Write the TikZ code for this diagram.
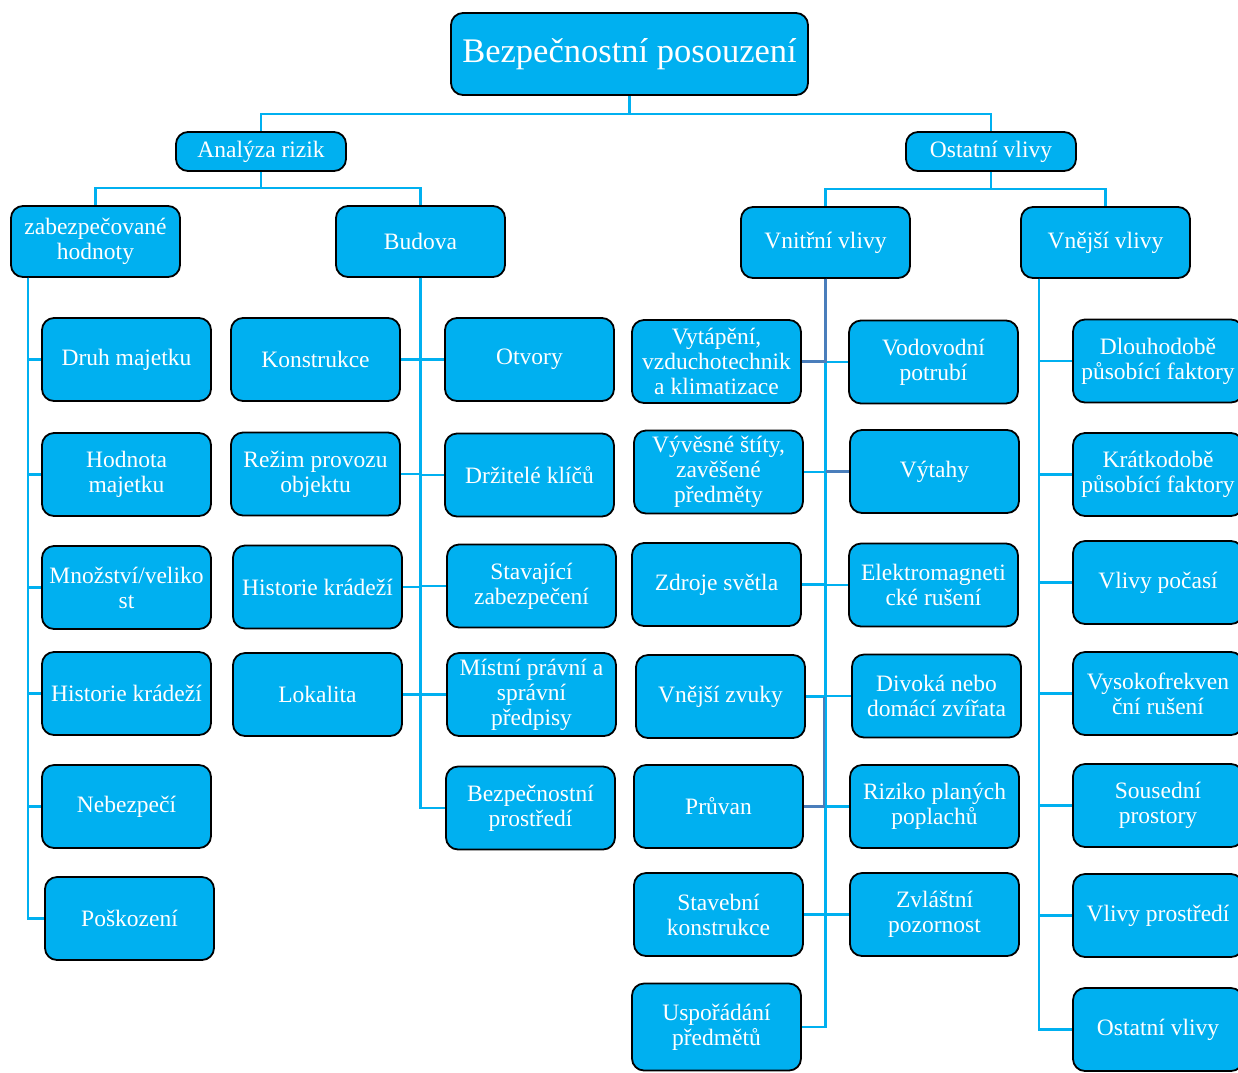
\documentclass[tikz,border=0pt]{standalone}
\usepackage{fontspec}
\setmainfont{Liberation Serif}
\definecolor{boxfill}{HTML}{00B0F0}
\definecolor{linec}{HTML}{00B0F0}
\definecolor{steel}{HTML}{4A7EBB}
\begin{document}
\begin{tikzpicture}[x=1pt,y=-1pt,
  box/.style={draw=black, line width=1.8pt, fill=boxfill, rounded corners=12pt, text=white,
    align=center, minimum width=169pt, minimum height=83pt, inner sep=1pt,
    font=\fontsize{23.5}{25}\selectfont},
  conn/.style={draw=linec, line width=2.5pt},
  sconn/.style={draw=steel, line width=2.2pt}]
\useasboundingbox (0,0) rectangle (1238,1072);
\clip (0,0) rectangle (1238,1072);

% level 0-2
\node[box, minimum width=357pt, minimum height=82pt, font=\fontsize{34.5}{38}\selectfont] (title) at (629.5,54) {Bezpečnostní posouzení};
\node[box, minimum width=170pt, minimum height=39pt] (ana) at (261,151.5) {Analýza rizik};
\node[box, minimum width=170pt, minimum height=39pt] (ost) at (991,151.5) {Ostatní vlivy};
\node[box, minimum height=71pt] (zab) at (95.5,241.5) {zabezpečované\\hodnoty};
\node[box, minimum height=71pt] (bud) at (420.5,241.5) {Budova};
\node[box, minimum height=71pt] (vni) at (825.5,242.5) {Vnitřní vlivy};
\node[box, minimum height=71pt] (vne) at (1105.5,242.5) {Vnější vlivy};

% zabezpečované hodnoty
\node[box] (druh) at (126.5,359.5) {Druh majetku};
\node[box] (hod) at (126.5,474.5) {Hodnota\\majetku};
\node[box] (mno) at (126.5,587.5) {Množství/veliko\\st};
\node[box] (his1) at (126.5,693.5) {Historie krádeží};
\node[box] (neb) at (126.5,806.5) {Nebezpečí};
\node[box] (pos) at (129.5,918.5) {Poškození};

% Budova left
\node[box] (kon) at (315.5,359.5) {Konstrukce};
\node[box] (rez) at (315.5,474) {Režim provozu\\objektu};
\node[box] (his2) at (317.5,587) {Historie krádeží};
\node[box] (lok) at (317.5,694.5) {Lokalita};
% Budova right
\node[box] (otv) at (529.5,359.5) {Otvory};
\node[box] (drz) at (529.5,475) {Držitelé klíčů};
\node[box] (sta) at (531.5,586) {Stavající\\zabezpečení};
\node[box] (mis) at (531.5,694.5) {Místní právní a\\správní\\předpisy};
\node[box] (bpr) at (530.5,808) {Bezpečnostní\\prostředí};

% Vnitřní left
\node[box] (vyt) at (716.5,361.5) {Vytápění,\\vzduchotechnik\\a klimatizace};
\node[box] (vyv) at (718.5,472) {Vývěsné štíty,\\zavěšené\\předměty};
\node[box] (zdr) at (716.5,584.5) {Zdroje světla};
\node[box] (vzv) at (720.5,696.5) {Vnější zvuky};
\node[box] (pru) at (718.5,806.5) {Průvan};
\node[box] (stk) at (718.5,914.5) {Stavební\\konstrukce};
\node[box, minimum height=87pt] (usp) at (716.5,1027) {Uspořádání\\předmětů};
% Vnitřní right
\node[box] (vod) at (933.5,362) {Vodovodní\\potrubí};
\node[box] (vyth) at (934.5,471.5) {Výtahy};
\node[box] (ele) at (933.5,585) {Elektromagneti\\cké rušení};
\node[box] (div) at (936.5,696) {Divoká nebo\\domácí zvířata};
\node[box] (riz) at (934.5,806.5) {Riziko planých\\poplachů};
\node[box] (zvl) at (934.5,914.5) {Zvláštní\\pozornost};

% Vnější
\node[box, minimum width=170pt] (dlo) at (1158,361) {Dlouhodobě\\působící faktory};
\node[box, minimum width=170pt] (kra) at (1158,474.5) {Krátkodobě\\působící faktory};
\node[box, minimum width=170pt] (poc) at (1158,582.5) {Vlivy počasí};
\node[box, minimum width=170pt] (vys) at (1158,693.5) {Vysokofrekven\\ční rušení};
\node[box, minimum width=170pt] (sou) at (1158,805.5) {Sousední\\prostory};
\node[box, minimum width=170pt] (pro) at (1158,915.5) {Vlivy prostředí};
\node[box, minimum width=170pt] (ost2) at (1158,1029.5) {Ostatní vlivy};

% trunk points
\coordinate (j0) at (629.5,114);
\coordinate (j1) at (261,188);
\coordinate (j2) at (991,189);
\coordinate (zt) at (28,277.5);
\coordinate (vt) at (1039,278.5);

% connectors
\draw[conn] (title.south) -- (j0) -| (ana.north);
\draw[conn] (j0) -| (ost.north);
\draw[conn] (ana.south) -- (j1) -| (zab.north);
\draw[conn] (j1) -| (bud.north);
\draw[conn] (ost.south) -- (j2) -| (vni.north);
\draw[conn] (j2) -| (vne.north);

\foreach \c in {druh,hod,mno,his1,neb,pos} \draw[conn] (zt) |- (\c.west);
\foreach \c in {kon,rez,his2,lok} \draw[conn] (bud.south) |- (\c.east);
\foreach \c in {otv,drz,sta,mis,bpr} \draw[conn] (bud.south) |- (\c.west);
\foreach \c in {vyv,zdr,vzv,stk,usp} \draw[conn] (vni.south) |- (\c.east);
\foreach \c in {vod,ele,div,riz,zvl} \draw[conn] (vni.south) |- (\c.west);
\draw[conn] (vni.south) |- (vyth.west);
\foreach \c in {dlo,kra,poc,vys,sou,pro,ost2} \draw[conn] (vt) |- (\c.west);

% steel-blue segments
\draw[sconn] (vni.south) |- (vyt.east);
\draw[sconn] (vni.south |- vyth.west) -- (vyth.west);
\coordinate (s1) at ([xshift=-1.5pt]vni.south |- vzv.east);
\draw[sconn] (s1) |- (pru.east);
\end{tikzpicture}
\end{document}
